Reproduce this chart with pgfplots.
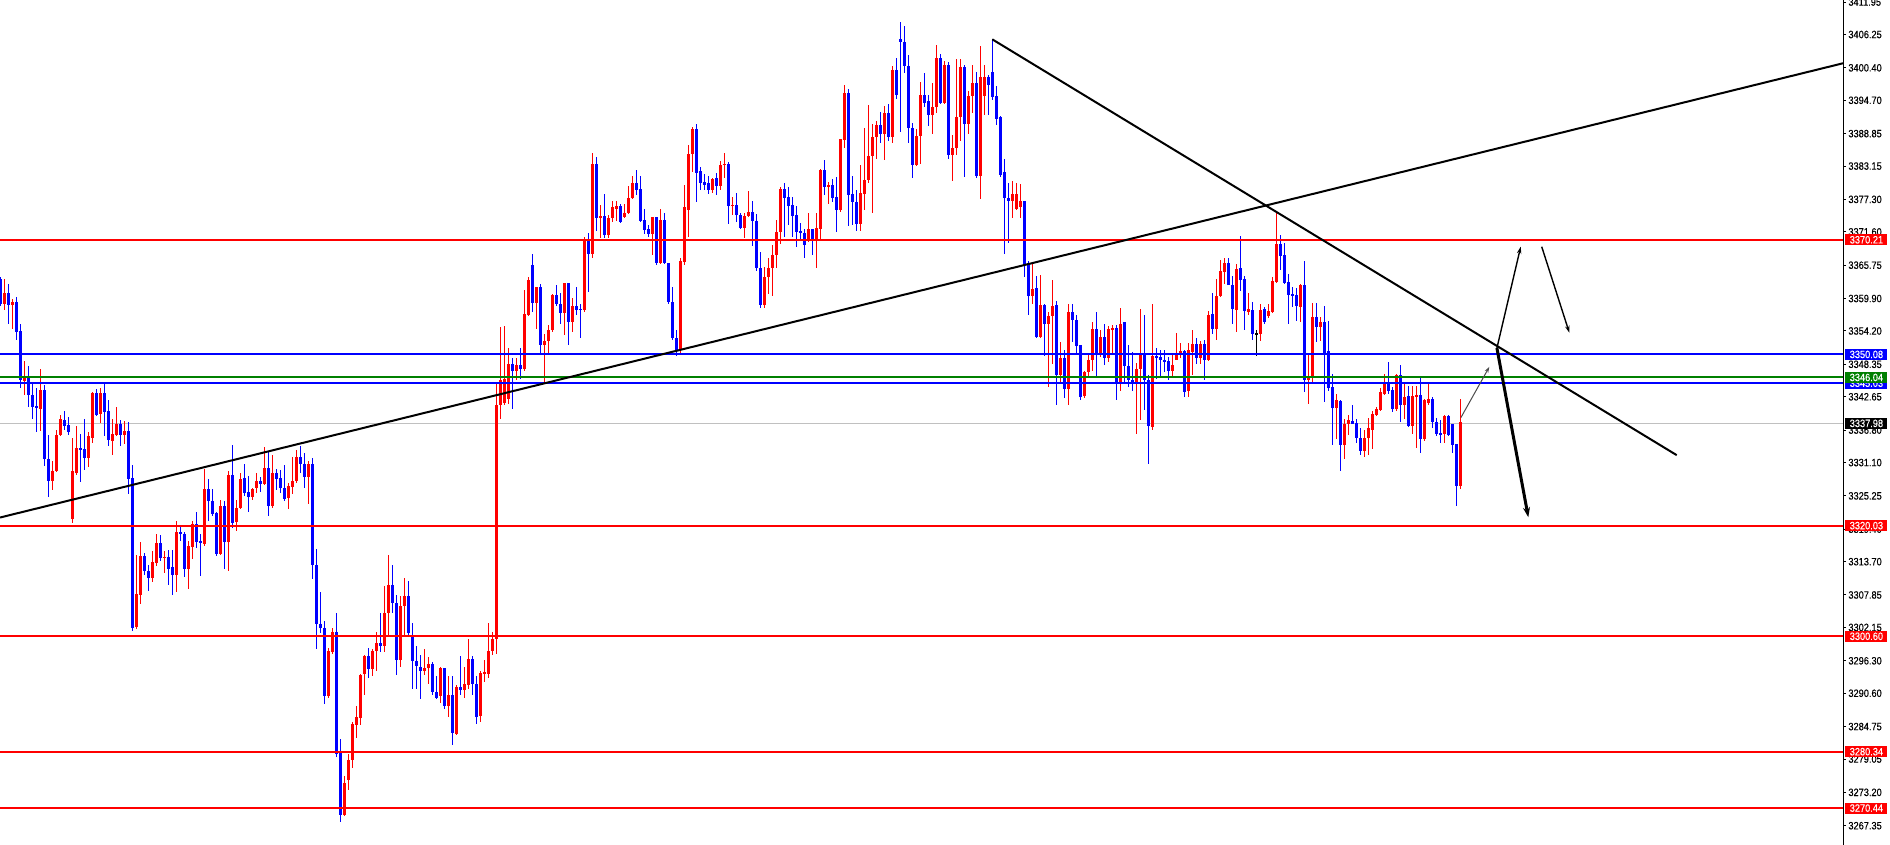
\documentclass[border=0pt]{standalone}
\usepackage{fontspec}
\setmainfont{Liberation Sans}
\newfontfamily\axisfont[FakeStretch=0.87, FakeBold=0.3]{Liberation Sans}
\usepackage{pgfplots}
\pgfplotsset{compat=1.18}
\usepackage{pgfplotstable}
\usetikzlibrary{arrows.meta}
\definecolor{mtgreen}{RGB}{0,128,0}
\definecolor{mtgray}{RGB}{192,192,192}

% candles, one per row: open high low close
\pgfplotstableread{
o h l c
3363.3 3363.6 3358.6 3358.9
3359.0 3363.4 3357.8 3360.9
3360.9 3362.4 3355.4 3358.7
3358.7 3359.8 3354.6 3359.3
3359.3 3360.2 3352.7 3354.1
3354.2 3355.4 3344.2 3345.6
3345.4 3348.9 3343.0 3346.1
3346.1 3348.0 3340.9 3343.0
3343.0 3345.1 3338.7 3340.9
3341.1 3344.2 3336.4 3340.7
3340.6 3347.5 3336.6 3343.9
3343.9 3344.8 3330.5 3331.7
3331.7 3335.9 3325.0 3327.8
3327.8 3331.4 3326.2 3329.7
3329.7 3336.9 3329.5 3336.0
3335.9 3339.5 3335.7 3338.8
3338.6 3340.2 3336.9 3337.6
3337.7 3339.1 3336.0 3336.4
3321.2 3335.4 3320.5 3329.6
3329.3 3337.6 3329.0 3333.7
3333.7 3336.1 3327.6 3333.4
3333.5 3338.7 3329.8 3331.9
3331.9 3336.4 3330.4 3335.7
3335.5 3343.5 3334.5 3343.3
3343.3 3344.0 3339.3 3339.5
3339.6 3344.2 3338.0 3343.3
3343.3 3345.3 3335.7 3339.9
3340.1 3342.0 3334.0 3335.0
3334.9 3338.7 3332.4 3336.1
3336.0 3340.9 3335.7 3337.8
3337.8 3338.5 3334.0 3336.0
3335.9 3338.4 3334.4 3336.6
3336.6 3338.3 3325.5 3328.3
3328.4 3330.7 3301.6 3302.1
3302.3 3314.9 3301.8 3308.0
3307.9 3317.1 3306.3 3314.7
3314.7 3315.3 3311.3 3312.0
3312.0 3313.2 3308.5 3310.8
3310.8 3315.6 3310.1 3313.6
3313.4 3318.6 3313.0 3317.0
3317.0 3318.4 3313.9 3314.4
3314.4 3315.5 3311.8 3314.6
3314.6 3315.8 3309.7 3312.5
3312.7 3315.8 3307.9 3311.4
3311.4 3320.8 3308.4 3318.9
3318.9 3320.1 3317.4 3318.5
3318.6 3318.9 3311.0 3312.5
3312.5 3317.4 3309.0 3316.5
3316.3 3320.8 3314.2 3320.3
3320.3 3322.4 3316.1 3317.2
3317.4 3318.6 3311.1 3317.0
3316.9 3330.0 3316.5 3326.4
3326.4 3328.3 3320.8 3324.3
3324.3 3326.5 3321.8 3322.1
3322.2 3322.4 3314.7 3315.1
3315.1 3324.5 3314.9 3323.4
3323.4 3324.3 3312.5 3317.2
3317.2 3329.7 3312.0 3329.0
3329.0 3334.2 3319.6 3320.5
3320.7 3324.6 3319.1 3323.2
3323.1 3329.3 3322.9 3328.3
3328.4 3330.9 3325.3 3325.7
3325.9 3328.8 3322.4 3325.1
3325.1 3326.7 3324.5 3326.5
3326.7 3329.2 3325.7 3327.8
3327.8 3328.6 3326.0 3327.4
3327.4 3333.8 3327.1 3330.2
3330.2 3333.0 3321.8 3323.4
3323.4 3332.4 3323.2 3329.3
3329.3 3330.0 3326.2 3328.3
3328.4 3329.8 3325.7 3326.7
3326.7 3330.7 3324.3 3324.8
3324.8 3327.6 3322.9 3327.0
3326.8 3332.1 3325.5 3327.8
3327.8 3333.3 3327.5 3332.1
3332.1 3334.0 3329.2 3330.9
3330.9 3332.8 3326.7 3328.6
3328.6 3331.4 3323.8 3330.9
3330.9 3331.9 3310.6 3313.2
3313.2 3316.0 3298.3 3302.8
3302.8 3308.4 3301.1 3302.1
3302.1 3303.3 3288.7 3290.1
3290.1 3298.6 3289.8 3298.0
3297.8 3302.1 3297.5 3301.3
3301.3 3304.7 3279.4 3280.0
3280.1 3282.5 3268.0 3269.3
3269.3 3276.1 3269.0 3274.9
3275.4 3280.0 3273.7 3278.9
3278.9 3285.5 3277.5 3285.2
3285.1 3288.4 3282.7 3286.5
3286.3 3294.0 3285.1 3293.8
3293.9 3297.4 3290.3 3297.2
3297.2 3298.6 3293.3 3294.8
3294.8 3298.3 3293.6 3298.1
3298.1 3301.4 3294.5 3299.5
3299.5 3304.7 3297.8 3298.9
3298.9 3309.5 3297.8 3304.7
3304.7 3314.9 3300.7 3309.7
3309.7 3313.2 3304.7 3306.5
3306.5 3307.9 3293.9 3296.4
3296.4 3307.6 3295.2 3305.9
3305.9 3310.9 3300.7 3307.6
3307.6 3310.3 3300.7 3301.1
3300.9 3303.0 3291.4 3296.2
3296.2 3298.9 3291.4 3295.3
3295.3 3297.4 3289.6 3294.5
3294.5 3298.3 3293.8 3295.0
3295.0 3296.9 3292.2 3295.7
3295.7 3296.1 3290.3 3290.9
3290.9 3293.6 3289.6 3289.8
3290.1 3295.2 3288.9 3295.0
3295.0 3295.0 3287.9 3288.4
3288.4 3293.6 3286.5 3290.3
3290.3 3293.6 3281.5 3283.6
3283.4 3292.0 3283.2 3291.7
3291.7 3297.1 3290.3 3291.2
3291.2 3295.3 3289.8 3292.2
3292.0 3300.2 3291.4 3296.6
3296.6 3297.1 3290.3 3292.2
3292.2 3293.6 3285.2 3286.5
3286.7 3294.5 3285.5 3294.2
3294.0 3296.4 3292.6 3294.3
3294.0 3303.0 3293.3 3298.1
3298.1 3301.4 3297.4 3300.2
3300.2 3345.1 3297.5 3341.2
3341.2 3354.9 3338.7 3345.6
3341.6 3355.1 3341.2 3345.8
3342.3 3351.3 3341.4 3348.4
3348.4 3349.4 3340.6 3347.2
3347.2 3349.4 3345.6 3348.3
3348.3 3351.3 3345.8 3347.5
3347.5 3361.4 3347.2 3357.1
3357.1 3363.6 3356.8 3363.1
3365.8 3367.8 3357.6 3359.1
3359.1 3362.0 3354.6 3362.0
3362.0 3362.4 3350.3 3351.8
3351.8 3353.6 3345.1 3352.4
3352.4 3355.3 3350.3 3354.4
3354.4 3360.7 3354.1 3360.5
3360.5 3362.2 3358.6 3358.9
3358.9 3360.9 3355.5 3357.4
3357.4 3362.6 3353.5 3362.6
3362.6 3362.6 3351.8 3355.7
3355.7 3360.0 3354.1 3358.6
3358.6 3361.9 3357.0 3357.9
3358.1 3359.0 3352.9 3357.9
3357.9 3370.7 3357.6 3370.4
3370.4 3371.4 3361.0 3367.8
3367.8 3385.4 3367.1 3383.6
3383.6 3384.8 3371.8 3374.0
3374.0 3376.4 3370.5 3374.4
3374.4 3378.2 3370.5 3371.0
3371.0 3374.6 3370.5 3374.1
3374.0 3377.1 3373.3 3375.9
3375.7 3377.1 3373.5 3376.1
3376.1 3376.5 3373.2 3373.3
3374.2 3376.5 3374.0 3374.9
3374.9 3379.7 3374.7 3377.6
3377.6 3381.4 3377.3 3380.1
3380.1 3382.5 3378.0 3379.0
3379.2 3381.4 3373.3 3373.5
3373.7 3375.6 3371.2 3371.9
3372.1 3372.8 3370.7 3371.2
3371.2 3374.2 3367.6 3374.2
3374.2 3374.2 3365.7 3366.1
3366.2 3375.6 3365.9 3373.7
3373.7 3374.9 3365.9 3366.2
3366.2 3366.2 3358.9 3359.3
3359.3 3361.9 3352.7 3353.0
3353.0 3354.4 3349.9 3350.8
3350.8 3367.1 3350.1 3366.4
3366.4 3379.9 3365.8 3375.9
3375.4 3386.8 3370.7 3385.3
3385.3 3390.1 3382.2 3389.6
3389.6 3390.5 3376.8 3382.0
3382.2 3383.0 3379.0 3380.1
3380.3 3381.7 3379.0 3379.9
3380.1 3381.4 3378.2 3379.0
3379.0 3381.1 3378.5 3380.8
3381.1 3382.0 3378.0 3379.7
3379.7 3384.1 3379.0 3383.4
3383.3 3385.4 3381.1 3383.6
3383.6 3383.9 3373.0 3376.1
3376.1 3377.8 3374.6 3376.4
3376.3 3378.4 3373.3 3374.6
3374.6 3374.9 3372.1 3372.3
3372.3 3374.9 3370.5 3374.4
3374.4 3378.7 3374.2 3375.1
3375.1 3377.1 3369.1 3373.5
3373.5 3374.7 3364.8 3365.2
3365.2 3368.0 3358.2 3358.7
3358.7 3365.5 3358.2 3363.6
3363.6 3367.1 3360.7 3365.3
3365.3 3369.3 3360.3 3367.5
3367.5 3373.7 3365.2 3371.6
3371.6 3379.4 3369.5 3379.2
3379.2 3380.1 3370.7 3377.5
3377.7 3379.5 3372.8 3376.2
3376.4 3377.8 3370.7 3374.4
3374.6 3376.1 3369.0 3371.6
3371.8 3373.2 3370.4 3371.4
3371.4 3372.1 3367.1 3369.3
3370.2 3374.9 3369.9 3372.1
3372.1 3372.1 3367.6 3370.4
3370.4 3374.9 3365.2 3372.3
3372.1 3382.7 3370.2 3382.5
3382.5 3384.3 3378.0 3379.5
3379.5 3380.3 3376.5 3379.9
3379.9 3380.9 3376.8 3377.6
3377.8 3381.3 3371.6 3375.4
3375.4 3387.9 3375.1 3387.9
3387.7 3397.3 3386.3 3396.0
3396.0 3396.7 3372.6 3378.0
3378.2 3381.4 3372.8 3376.8
3376.8 3379.0 3371.8 3373.0
3373.0 3383.4 3371.8 3378.4
3378.2 3389.8 3375.4 3380.8
3380.8 3393.9 3380.1 3384.9
3384.9 3390.5 3374.9 3388.2
3388.2 3391.0 3384.4 3390.3
3390.3 3392.6 3387.2 3388.8
3388.8 3393.7 3384.2 3392.4
3392.4 3394.0 3387.5 3388.2
3388.2 3400.8 3387.2 3400.0
3400.0 3402.1 3395.0 3395.7
3405.4 3408.5 3389.1 3404.9
3404.9 3407.8 3399.5 3400.7
3400.7 3402.6 3387.2 3389.9
3389.9 3390.8 3381.1 3383.4
3383.4 3389.6 3383.2 3388.5
3388.5 3397.9 3383.6 3395.7
3395.7 3399.5 3393.6 3394.3
3394.5 3395.7 3390.1 3392.2
3392.2 3397.8 3388.8 3393.6
3393.6 3404.4 3392.4 3402.2
3402.2 3402.8 3394.0 3394.3
3394.3 3401.6 3394.0 3400.9
3400.9 3401.4 3384.4 3385.1
3385.1 3388.6 3380.6 3386.3
3386.3 3401.9 3385.1 3391.7
3391.7 3401.9 3387.5 3400.5
3400.5 3400.9 3381.3 3390.5
3390.5 3396.4 3388.8 3395.5
3395.5 3400.9 3392.4 3397.8
3397.8 3399.7 3381.1 3381.4
3381.4 3404.3 3377.3 3398.8
3395.5 3400.9 3392.2 3398.8
3398.8 3399.2 3392.2 3397.4
3399.7 3405.4 3394.8 3395.3
3395.5 3397.2 3390.3 3391.5
3391.7 3392.0 3381.3 3381.6
3382.2 3384.4 3367.8 3377.5
3377.5 3380.1 3369.7 3377.1
3377.1 3380.6 3374.0 3378.2
3375.7 3380.1 3375.4 3378.2
3375.9 3380.1 3374.0 3377.0
3377.0 3377.0 3363.6 3365.8
3366.1 3366.4 3357.0 3360.3
3360.3 3366.1 3358.9 3361.5
3361.7 3363.9 3352.9 3353.2
3353.2 3364.1 3352.9 3358.7
3358.7 3358.9 3349.9 3355.5
3355.5 3357.6 3344.4 3356.8
3356.8 3363.1 3348.4 3358.6
3358.7 3359.5 3341.3 3346.4
3346.4 3352.2 3344.9 3349.5
3349.5 3350.8 3342.5 3344.0
3344.0 3359.0 3341.2 3357.6
3357.6 3358.9 3352.2 3356.2
3356.2 3357.0 3350.3 3351.5
3351.7 3351.8 3342.1 3342.6
3342.8 3347.2 3342.5 3347.0
3347.0 3349.9 3346.3 3349.1
3349.1 3355.7 3347.2 3354.6
3354.6 3357.6 3346.3 3349.9
3349.9 3354.4 3349.7 3353.2
3353.2 3355.5 3348.2 3349.4
3349.4 3355.1 3348.7 3354.6
3354.3 3355.3 3350.3 3354.7
3354.7 3355.3 3342.1 3345.3
3345.3 3358.2 3343.7 3355.5
3355.7 3355.7 3345.1 3348.0
3348.0 3351.8 3344.4 3345.6
3345.6 3350.6 3343.7 3344.9
3344.9 3348.6 3336.1 3347.6
3347.6 3358.1 3338.5 3350.0
3350.0 3357.0 3340.4 3345.6
3345.6 3346.4 3330.9 3337.6
3337.4 3359.0 3336.9 3349.8
3349.8 3351.3 3345.8 3349.5
3349.7 3350.8 3346.3 3349.1
3349.2 3350.8 3347.0 3348.7
3348.9 3349.6 3345.6 3347.2
3347.2 3350.1 3346.1 3348.3
3349.2 3353.9 3349.2 3350.1
3349.9 3352.1 3349.4 3350.6
3350.6 3350.8 3342.6 3343.5
3343.7 3352.1 3342.6 3350.8
3350.6 3354.4 3346.5 3351.9
3351.9 3353.0 3348.4 3349.4
3349.4 3352.5 3348.4 3352.0
3352.0 3352.7 3345.6 3349.1
3349.1 3357.7 3348.9 3357.1
3357.1 3360.9 3353.6 3354.6
3354.6 3363.4 3352.7 3360.3
3360.3 3366.6 3360.1 3364.7
3364.5 3367.1 3362.4 3366.1
3366.1 3367.1 3362.2 3362.3
3362.3 3363.8 3355.5 3358.1
3357.9 3365.9 3354.1 3365.0
3365.3 3370.9 3361.2 3363.1
3363.3 3363.8 3354.4 3357.7
3357.6 3360.9 3357.0 3358.1
3357.9 3359.3 3352.7 3353.6
3353.7 3354.4 3349.9 3353.7
3353.6 3359.0 3352.4 3357.9
3358.1 3358.4 3355.4 3355.7
3356.9 3359.0 3356.5 3357.7
3357.6 3363.6 3357.4 3362.9
3362.8 3375.1 3362.6 3369.4
3369.4 3371.1 3365.0 3367.4
3367.6 3369.7 3362.4 3362.6
3362.8 3364.2 3355.5 3360.5
3360.7 3361.9 3358.4 3360.3
3360.5 3361.7 3356.0 3358.6
3358.4 3362.4 3355.7 3362.2
3362.2 3366.4 3343.5 3345.6
3345.6 3350.3 3341.3 3346.1
3346.1 3359.1 3345.1 3356.7
3356.7 3359.1 3352.2 3354.9
3354.9 3356.7 3352.5 3355.7
3355.7 3358.6 3341.8 3350.3
3350.6 3356.0 3343.7 3344.2
3344.4 3346.7 3334.2 3340.6
3340.6 3343.1 3335.2 3342.0
3342.0 3342.0 3329.7 3334.2
3334.2 3338.8 3331.7 3337.8
3337.8 3339.5 3335.9 3338.5
3338.4 3341.2 3337.8 3337.9
3338.0 3338.7 3334.5 3335.4
3335.4 3337.1 3332.4 3333.1
3333.1 3336.9 3332.1 3335.5
3335.5 3339.0 3332.5 3337.1
3336.9 3340.2 3333.5 3339.7
3339.5 3340.9 3339.2 3340.6
3340.4 3344.2 3340.1 3343.5
3343.2 3346.7 3343.0 3345.1
3345.1 3348.7 3343.2 3343.7
3343.9 3344.4 3339.9 3340.6
3340.6 3346.7 3340.1 3346.4
3346.4 3348.3 3338.2 3341.2
3341.2 3345.1 3338.7 3342.6
3342.8 3344.5 3337.3 3337.6
3337.6 3344.5 3336.1 3342.8
3342.6 3344.5 3333.6 3343.0
3343.0 3345.9 3332.8 3335.2
3335.2 3342.3 3334.9 3342.0
3341.6 3345.1 3341.3 3342.3
3342.3 3342.6 3337.1 3338.2
3338.2 3339.0 3335.7 3336.1
3336.3 3338.5 3334.5 3336.1
3336.1 3339.5 3334.5 3339.3
3339.3 3339.5 3335.7 3335.9
3337.8 3337.8 3332.8 3334.2
3334.4 3334.4 3323.4 3327.0
3326.9 3342.3 3326.5 3338.2
}\bars

\pgfplotsset{
  wick/.style={draw=none, mark=none, forget plot,
    error bars/y dir=both, error bars/y explicit, error bars/error mark=none,
    error bars/error bar style={draw=#1, line width=0.5pt}},
  body/.style={draw=none, mark=none, forget plot,
    error bars/y dir=both, error bars/y explicit, error bars/error mark=none,
    error bars/error bar style={draw=#1, line width=1.5pt}},
  up/.style={restrict expr to domain={\thisrow{c}-\thisrow{o}}{0.001:1000}},
  down/.style={restrict expr to domain={\thisrow{c}-\thisrow{o}}{-1000:-0.001}},
  flat/.style={restrict expr to domain={\thisrow{c}-\thisrow{o}}{-0.001:0.001}},
  level/.style={line width=1pt, #1, forget plot},
}

\begin{document}
\begin{tikzpicture}
\path[use as bounding box] (0,0) rectangle (945pt,422.5pt);
\begin{axis}[
  at={(0,0)}, anchor=south west,
  scale only axis, width=921.5pt, height=422.5pt,
  xmin=-0.125, xmax=460.625, ymin=3263.96, ymax=3412.31,
  axis x line=none, axis y line*=right,
  y axis line style={line width=0.5pt},
  xtick=\empty,
  ytick={3267.35,3273.20,3279.05,3284.75,3290.60,3296.30,3302.15,3307.85,3313.70,3319.40,3325.25,3331.10,3336.80,3342.65,3348.35,3354.20,3359.90,3365.75,3371.60,3377.30,3383.15,3388.85,3394.70,3400.40,3406.25,3411.95},
  yticklabels={3267.35,3273.20,3279.05,3284.75,3290.60,3296.30,3302.15,3307.85,3313.70,3319.40,3325.25,3331.10,3336.80,3342.65,3348.35,3354.20,3359.90,3365.75,3371.60,3377.30,3383.15,3388.85,3394.70,3400.40,3406.25,3411.95},
  tick align=outside, major tick length=1.5pt,
  tick style={black, line width=0.5pt},
  yticklabel style={font=\axisfont\fontsize{5.3}{6}\selectfont, inner sep=0pt, xshift=1pt},
  clip=false,
]
% bid line behind the candles
\addplot[mtgray, line width=0.5pt, forget plot] coordinates {(-0.125,3337.98) (460.625,3337.98)};

% wicks
\addplot[wick=red, up] table[x expr=\coordindex, y expr={(\thisrow{h}+\thisrow{l})/2}, y error expr={(\thisrow{h}-\thisrow{l})/2}] {\bars};
\addplot[wick=blue, down] table[x expr=\coordindex, y expr={(\thisrow{h}+\thisrow{l})/2}, y error expr={(\thisrow{h}-\thisrow{l})/2}] {\bars};
\addplot[wick=black, flat] table[x expr=\coordindex, y expr={(\thisrow{h}+\thisrow{l})/2}, y error expr={(\thisrow{h}-\thisrow{l})/2}] {\bars};
% bodies
\addplot[body=red, up] table[x expr=\coordindex, y expr={(\thisrow{o}+\thisrow{c})/2}, y error expr={max(abs(\thisrow{c}-\thisrow{o})/2,0.09)}] {\bars};
\addplot[body=blue, down] table[x expr=\coordindex, y expr={(\thisrow{o}+\thisrow{c})/2}, y error expr={max(abs(\thisrow{c}-\thisrow{o})/2,0.09)}] {\bars};
\addplot[body=black, flat] table[x expr=\coordindex, y expr={(\thisrow{o}+\thisrow{c})/2}, y error expr={max(abs(\thisrow{c}-\thisrow{o})/2,0.09)}] {\bars};

% horizontal levels
\addplot[level=red] coordinates {(-0.125,3370.21) (460.625,3370.21)};
\addplot[level=blue] coordinates {(-0.125,3350.08) (460.625,3350.08)};
\addplot[level=blue] coordinates {(-0.125,3345.03) (460.625,3345.03)};
\addplot[level=mtgreen] coordinates {(-0.125,3346.04) (460.625,3346.04)};
\addplot[level=red] coordinates {(-0.125,3320.03) (460.625,3320.03)};
\addplot[level=red] coordinates {(-0.125,3300.60) (460.625,3300.60)};
\addplot[level=red] coordinates {(-0.125,3280.34) (460.625,3280.34)};
\addplot[level=red] coordinates {(-0.125,3270.44) (460.625,3270.44)};

% trend lines
\addplot[black, line width=1pt] coordinates {(-0.125,3321.45) (460.625,3401.2)};
\addplot[black, line width=1pt] coordinates {(247.95,3405.4) (419.05,3332.4)};

% projected moves
\addplot[black!70, line width=0.5pt, -{Stealth[length=3pt,width=2pt]}] coordinates {(365.1,3339.0) (372.2,3347.9)};
\addplot[black, line width=0.7pt, -{Stealth[length=3.5pt,width=2.2pt]}] coordinates {(374.1,3351.2) (380.05,3369.0)};
\addplot[black, line width=0.7pt, -{Stealth[length=3.5pt,width=2.2pt]}] coordinates {(385.3,3369.0) (392.2,3353.9)};
\addplot[black, line width=1.5pt, -{Stealth[length=5pt,width=3.5pt]}] coordinates {(374.1,3351.2) (381.95,3321.5)};

\coordinate (t1) at (axis cs:460.625,3370.21);
\coordinate (t2) at (axis cs:460.625,3350.08);
\coordinate (t3) at (axis cs:460.625,3345.03);
\coordinate (t4) at (axis cs:460.625,3346.04);
\coordinate (t5) at (axis cs:460.625,3337.98);
\coordinate (t6) at (axis cs:460.625,3320.03);
\coordinate (t7) at (axis cs:460.625,3300.60);
\coordinate (t8) at (axis cs:460.625,3280.34);
\coordinate (t9) at (axis cs:460.625,3270.44);
\end{axis}
\foreach \p/\col/\txt in {t1/red/3370.21, t2/blue/3350.08, t3/blue/3345.03, t4/mtgreen/3346.04, t5/black/3337.98, t6/red/3320.03, t7/red/3300.60, t8/red/3280.34, t9/red/3270.44}
  \node[anchor=west, xshift=1pt, fill=\col, text=white, inner sep=0pt, minimum width=21pt, minimum height=5.5pt, font=\axisfont\fontsize{5.3}{6}\selectfont] at (\p) {\txt};
\end{tikzpicture}
\end{document}
